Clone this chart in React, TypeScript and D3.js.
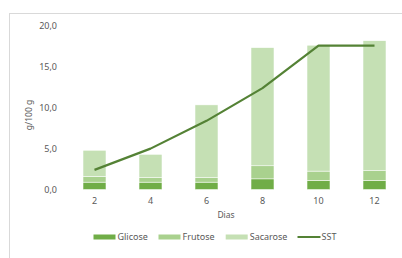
import React from "react";
import * as d3 from "d3";

const days = ["2", "4", "6", "8", "10", "12"];
const glicose = [0.9, 0.9, 0.9, 1.3, 1.1, 1.1];
const frutose = [0.7, 0.6, 0.6, 1.6, 1.15, 1.2];
const sacarose = [3.2, 2.8, 8.85, 14.45, 15.4, 15.9];
const sst = [2.4, 5.0, 8.4, 12.4, 17.6, 17.6];
const yTicks = [0, 5, 10, 15, 20];
const seriesNames = ["Glicose", "Frutose", "Sacarose"];
const seriesColors = ["#70ad47", "#a9d18e", "#c5e0b4"];
const lineColor = "#548235";

const W = 402;
const H = 258;
const font = "'Noto Sans', 'Open Sans', sans-serif";
const textColor = "#595959";

export default function App() {
  const x = d3.scaleBand<string>().domain(days).range([66.5, 402.5]).paddingInner(0.59).paddingOuter(0.295);
  const y = d3.scaleLinear().domain([0, 20]).range([189.5, 26]);
  const rows = days.map((d, i) => ({ day: d, Glicose: glicose[i], Frutose: frutose[i], Sacarose: sacarose[i] }));
  const stack = d3.stack<any>().keys(seriesNames)(rows);
  const line = d3
    .line<number>()
    .x((_, i) => (x(days[i]) as number) + x.bandwidth() / 2)
    .y((v) => y(v));
  const fmt = (v: number) => v.toFixed(1).replace(".", ",");

  const legendItems = [
    { name: "Glicose", color: seriesColors[0], x: 93.5, type: "rect" },
    { name: "Frutose", color: seriesColors[1], x: 158.5, type: "rect" },
    { name: "Sacarose", color: seriesColors[2], x: 225.7, type: "rect" },
    { name: "SST", color: lineColor, x: 297.5, type: "line" },
  ];

  return (
    <svg width={W} height={H} style={{ position: "absolute", left: 0, top: 0 }}>
      <rect x={0} y={0} width={W} height={H} fill="#ffffff" />
      <rect x={9.5} y={13.5} width={W + 20} height={H + 20} fill="none" stroke="#d9d9d9" strokeWidth={1} />
      {stack.map((s, si) => (
        <g key={si}>
          {s.map((d, i) => (
            <rect
              key={i}
              x={x(days[i])}
              y={y(d[1])}
              width={x.bandwidth()}
              height={y(d[0]) - y(d[1])}
              fill={seriesColors[si]}
              stroke="#ffffff"
              strokeWidth={0.5}
            />
          ))}
        </g>
      ))}
      <path d={line(sst) || ""} fill="none" stroke={lineColor} strokeWidth={2.2} strokeLinejoin="round" />
      {yTicks.map((t) => (
        <text key={t} x={57} y={y(t)} dy="0.35em" textAnchor="end" fontFamily={font} fontSize={9} fill={textColor}>
          {fmt(t)}
        </text>
      ))}
      {days.map((d) => (
        <text
          key={d}
          x={(x(d) as number) + x.bandwidth() / 2}
          y={201}
          dy="0.35em"
          textAnchor="middle"
          fontFamily={font}
          fontSize={9}
          fill={textColor}
        >
          {d}
        </text>
      ))}
      <text x={226} y={215} dy="0.35em" textAnchor="middle" fontFamily={font} fontSize={8.5} fill={textColor}>
        Dias
      </text>
      <text
        transform="translate(29,115) rotate(-90)"
        textAnchor="middle"
        dy="0.35em"
        fontFamily={font}
        fontSize={8.5}
        fill={textColor}
      >
        g/100 g
      </text>
      {legendItems.map((it) => (
        <g key={it.name}>
          {it.type === "rect" ? (
            <rect x={it.x} y={234.5} width={22} height={5} fill={it.color} />
          ) : (
            <line x1={it.x} x2={it.x + 23} y1={237} y2={237} stroke={it.color} strokeWidth={2} />
          )}
          <text x={it.x + 24} y={237} dy="0.35em" fontFamily={font} fontSize={9} fill={textColor}>
            {it.name}
          </text>
        </g>
      ))}
    </svg>
  );
}
